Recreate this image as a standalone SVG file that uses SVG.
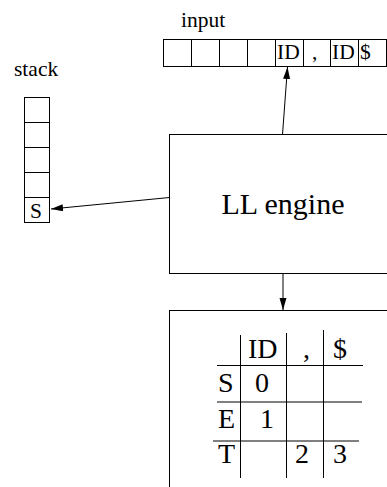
<svg xmlns="http://www.w3.org/2000/svg" width="387" height="487" viewBox="0 0 387 487">
<style>
.b{fill:#fff;stroke:#000;stroke-width:1}
.l{stroke:#000;stroke-width:1;fill:none}
text{fill:#000}
.s{font-size:21.5px}
.m{font-size:28px}
</style>
<defs>
<marker id="ah" markerUnits="userSpaceOnUse" markerWidth="13" markerHeight="8" refX="12" refY="3.5" orient="auto">
<path d="M0,0 L12,3.5 L0,7 z" fill="#000"/>
</marker>
</defs>
<rect width="387" height="487" fill="#fff"/>
<g font-family="Liberation Serif, Times New Roman, DejaVu Serif, serif">
<g id="input">
<text class="s" x="181" y="26.7">input</text>
<rect class="b" x="163.5" y="39.5" width="223" height="27"/>
<path class="l" d="M191.5,39.5V66.5M219.5,39.5V66.5M247.5,39.5V66.5M275.5,39.5V66.5M303.5,39.5V66.5M330.5,39.5V66.5M358.5,39.5V66.5"/>
<text class="s" x="277" y="59.3">ID</text>
<text class="s" x="312" y="59.3">,</text>
<text class="s" x="332" y="59.3">ID</text>
<text class="s" x="360" y="59.3">$</text>
</g>
<g id="stack">
<text class="s" x="14" y="76">stack</text>
<rect class="b" x="24.5" y="97.5" width="25" height="125"/>
<path class="l" d="M24.5,122.5H49.5M24.5,147.5H49.5M24.5,172.5H49.5M24.5,197.5H49.5"/>
<text class="s" x="30" y="218">S</text>
</g>
<g id="engine">
<rect class="b" x="169.5" y="134.5" width="260" height="139"/>
<text font-size="30" x="283" y="214.3" text-anchor="middle">LL engine</text>
</g>
<g id="table">
<rect class="b" x="169.5" y="310.5" width="260" height="200"/>
<path class="l" d="M240.5,335V478M286.5,333V478M323.5,330V478M217,365.5H363M217,402H362M213,441H359"/>
<text class="m" x="248" y="358">ID</text>
<text class="m" x="303" y="358">,</text>
<text class="m" x="333" y="358">$</text>
<text class="m" x="218" y="392">S</text>
<text class="m" x="255" y="392">0</text>
<text class="m" x="218" y="428">E</text>
<text class="m" x="260" y="428">1</text>
<text class="m" x="218" y="463">T</text>
<text class="m" x="295" y="463">2</text>
<text class="m" x="333" y="463">3</text>
</g>
</g>
<g id="connectors">
<line class="l" x1="282.5" y1="134.5" x2="287.5" y2="67" marker-end="url(#ah)"/>
<line class="l" x1="169.5" y1="197.5" x2="51" y2="209" marker-end="url(#ah)"/>
<line class="l" x1="283" y1="273.5" x2="283" y2="310" marker-end="url(#ah)"/>
</g>
</svg>
